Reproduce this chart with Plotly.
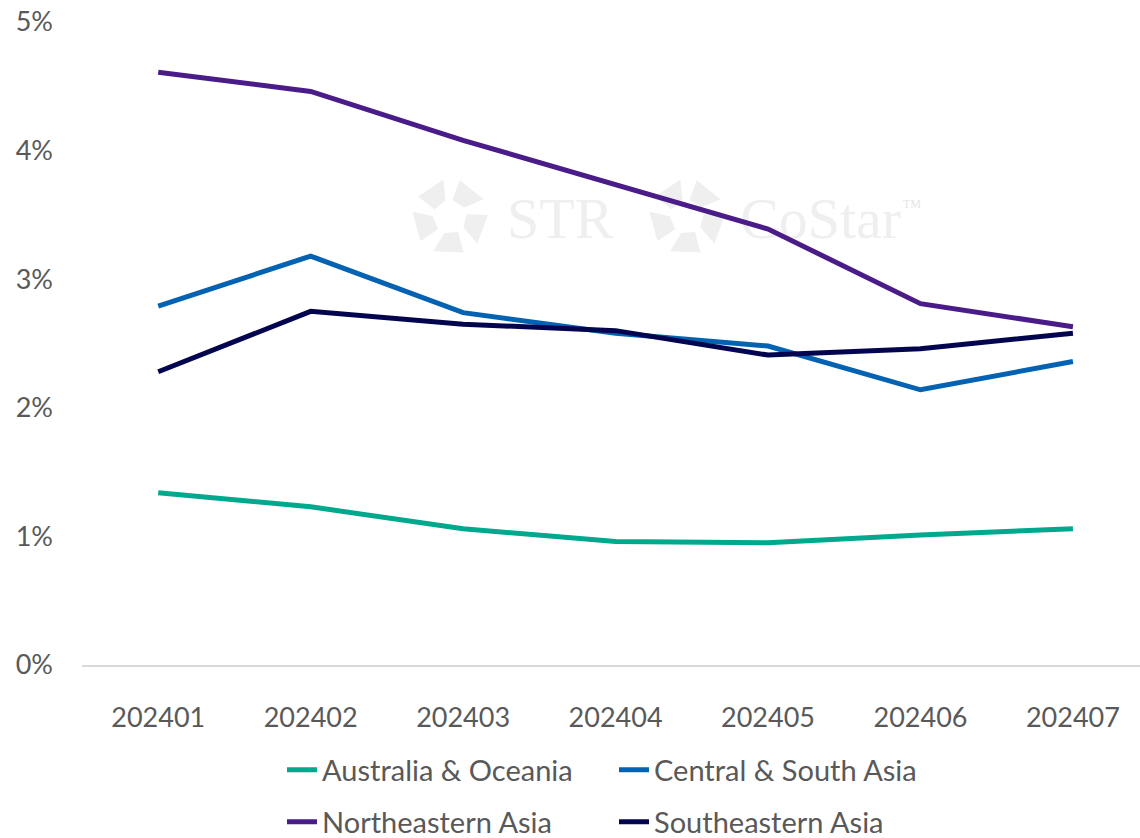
import base64
import math
import plotly.graph_objects as go

months = ["202401", "202402", "202403", "202404", "202405", "202406", "202407"]
australia_oceania = [1.34, 1.23, 1.06, 0.96, 0.95, 1.01, 1.06]
central_south_asia = [2.79, 3.18, 2.74, 2.58, 2.48, 2.14, 2.36]
northeastern_asia = [4.61, 4.46, 4.08, 3.73, 3.39, 2.81, 2.63]
southeastern_asia = [2.28, 2.75, 2.65, 2.60, 2.41, 2.46, 2.58]

series = [
    ("Australia & Oceania", australia_oceania, "#00A88E", "legend"),
    ("Central & South Asia", central_south_asia, "#0462B3", "legend"),
    ("Northeastern Asia", northeastern_asia, "#4A1C89", "legend2"),
    ("Southeastern Asia", southeastern_asia, "#03064F", "legend2"),
]

FONT = "Lato"
TXT = "#595959"

fig = go.Figure()
order = [0, 2, 1, 3]
for i in order:
    name, vals, col, lg = series[i]
    fig.add_trace(go.Scatter(
        x=months, y=vals, name=name, mode="lines",
        line=dict(color=col, width=5), legend=lg,
        legendrank=i + 1,
    ))

leg_common = dict(
    orientation="h", xref="container", yref="container",
    xanchor="left", yanchor="middle",
    font=dict(family=FONT, size=29, color=TXT),
    entrywidth=287, entrywidthmode="pixels",
    bgcolor="rgba(0,0,0,0)", itemwidth=30,
    traceorder="normal",
)

fig.update_layout(
    width=1140, height=838,
    margin=dict(l=82, r=0, t=22, b=173),
    paper_bgcolor="white", plot_bgcolor="white",
    font=dict(family=FONT, size=27, color=TXT),
    showlegend=True,
    legend=dict(x=282 / 1140, y=1 - 770 / 838, **leg_common),
    legend2=dict(x=282 / 1140, y=1 - 822 / 838, **leg_common),
    xaxis=dict(
        type="category", range=[-0.5, 6.44],
        showgrid=False, zeroline=False,
        showline=True, linecolor="#D9D9D9", linewidth=2,
        ticks="", ticklabelstandoff=28,
        tickfont=dict(family=FONT, size=27, color=TXT),
        fixedrange=True,
    ),
    yaxis=dict(
        range=[0, 5], dtick=1, tick0=0, ticksuffix="%",
        showgrid=False, zeroline=False, showline=False,
        ticks="", ticklabelstandoff=28,
        tickfont=dict(family=FONT, size=27, color=TXT),
        fixedrange=True,
    ),
)

# faint watermark as a background SVG image (drawn below the lines)
WM = "#EFEFEF"


def logo(cx, cy, r):
    parts = []
    for k in range(5):
        a0 = math.radians(-90 + k * 72 + 8)
        a1 = math.radians(-90 + k * 72 + 62)
        ri, ro = r * 0.45, r
        pts = [
            (cx + ri * math.cos(a0), cy + ri * math.sin(a0)),
            (cx + ro * math.cos(a0 + 0.12), cy + ro * math.sin(a0 + 0.12)),
            (cx + ro * math.cos(a1), cy + ro * math.sin(a1)),
            (cx + ri * math.cos(a1 - 0.1), cy + ri * math.sin(a1 - 0.1)),
        ]
        parts.append('<polygon points="%s" fill="%s"/>' % (
            " ".join("%.1f,%.1f" % p for p in pts), WM))
    return "".join(parts)


W, H = 540, 100  # covers page px x 400..940, y 165..265
svg = (
    '<svg xmlns="http://www.w3.org/2000/svg" width="%d" height="%d" viewBox="0 0 %d %d">' % (W, H, W, H)
    + logo(50, 52, 38)
    + '<text x="107" y="73" font-family="Liberation Serif" font-size="58" fill="%s">STR</text>' % WM
    + logo(287, 52, 38)
    + '<text x="340" y="73" font-family="Liberation Serif" font-size="58" fill="%s">CoStar</text>' % WM
    + '<text x="503" y="43" font-family="Liberation Serif" font-size="12" fill="#E6E6E6">TM</text>'
    + '</svg>'
)
src = "data:image/svg+xml;base64," + base64.b64encode(svg.encode()).decode()
fig.add_layout_image(
    source=src, xref="paper", yref="paper",
    x=(400 - 82) / 1058, y=(665 - 165) / 643,
    sizex=W / 1058, sizey=H / 643,
    xanchor="left", yanchor="top", sizing="stretch", layer="below",
)

fig.write_html("out.html")
